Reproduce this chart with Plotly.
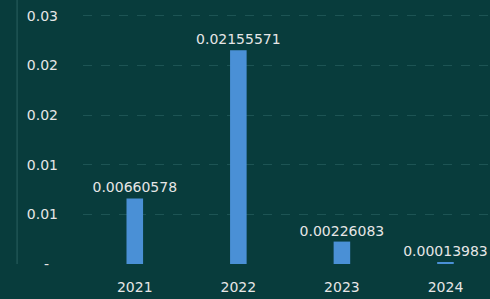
import plotly.graph_objects as go

years = ["2021", "2022", "2023", "2024"]
values = [0.00660578, 0.02155571, 0.00226083, 0.00013983]
labels = ["0.00660578", "0.02155571", "0.00226083", "0.00013983"]
tick_vals = [0, 0.005, 0.01, 0.015, 0.02, 0.025]
tick_text = ["-\u00a0\u00a0", "0.01", "0.01", "0.02", "0.02", "0.03"]

bg = "#083c3c"
txt = "#e6e6e6"
fnt = "DejaVu Sans"

fig = go.Figure()
fig.add_trace(go.Bar(
    x=years, y=values, text=labels, textposition="outside",
    constraintext="none",
    marker=dict(color="#4a90d6", line=dict(width=0)),
    width=0.16, cliponaxis=False,
    textfont=dict(color=txt, size=14, family=fnt),
))
fig.update_layout(
    width=490, height=299,
    margin=dict(l=83, r=0, t=0, b=35),
    paper_bgcolor=bg, plot_bgcolor=bg,
    showlegend=False,
    font=dict(family=fnt, color=txt, size=14),
    xaxis=dict(range=[-0.5, 3.43], showgrid=False, showline=False, zeroline=False,
               ticks="", tickfont=dict(size=14, color=txt, family=fnt),
               ticklabelstandoff=13, fixedrange=True),
    yaxis=dict(range=[0, 0.02661], tickvals=tick_vals, ticktext=tick_text,
               showgrid=True, gridcolor="#1d5454", griddash="dash", gridwidth=1,
               zeroline=False, showline=False, ticks="",
               tickfont=dict(size=14, color=txt, family=fnt),
               ticklabelstandoff=24, fixedrange=True),
    shapes=[dict(type="line", xref="paper", yref="paper", x0=-0.162, x1=-0.162,
                 y0=0, y1=1.2, line=dict(color="#2b6060", width=1), layer="below")],
)
fig.write_html(
    "out.html",
    config={"displayModeBar": False},
    post_script="document.body.style.margin='0';document.body.style.background='%s';" % bg,
)
